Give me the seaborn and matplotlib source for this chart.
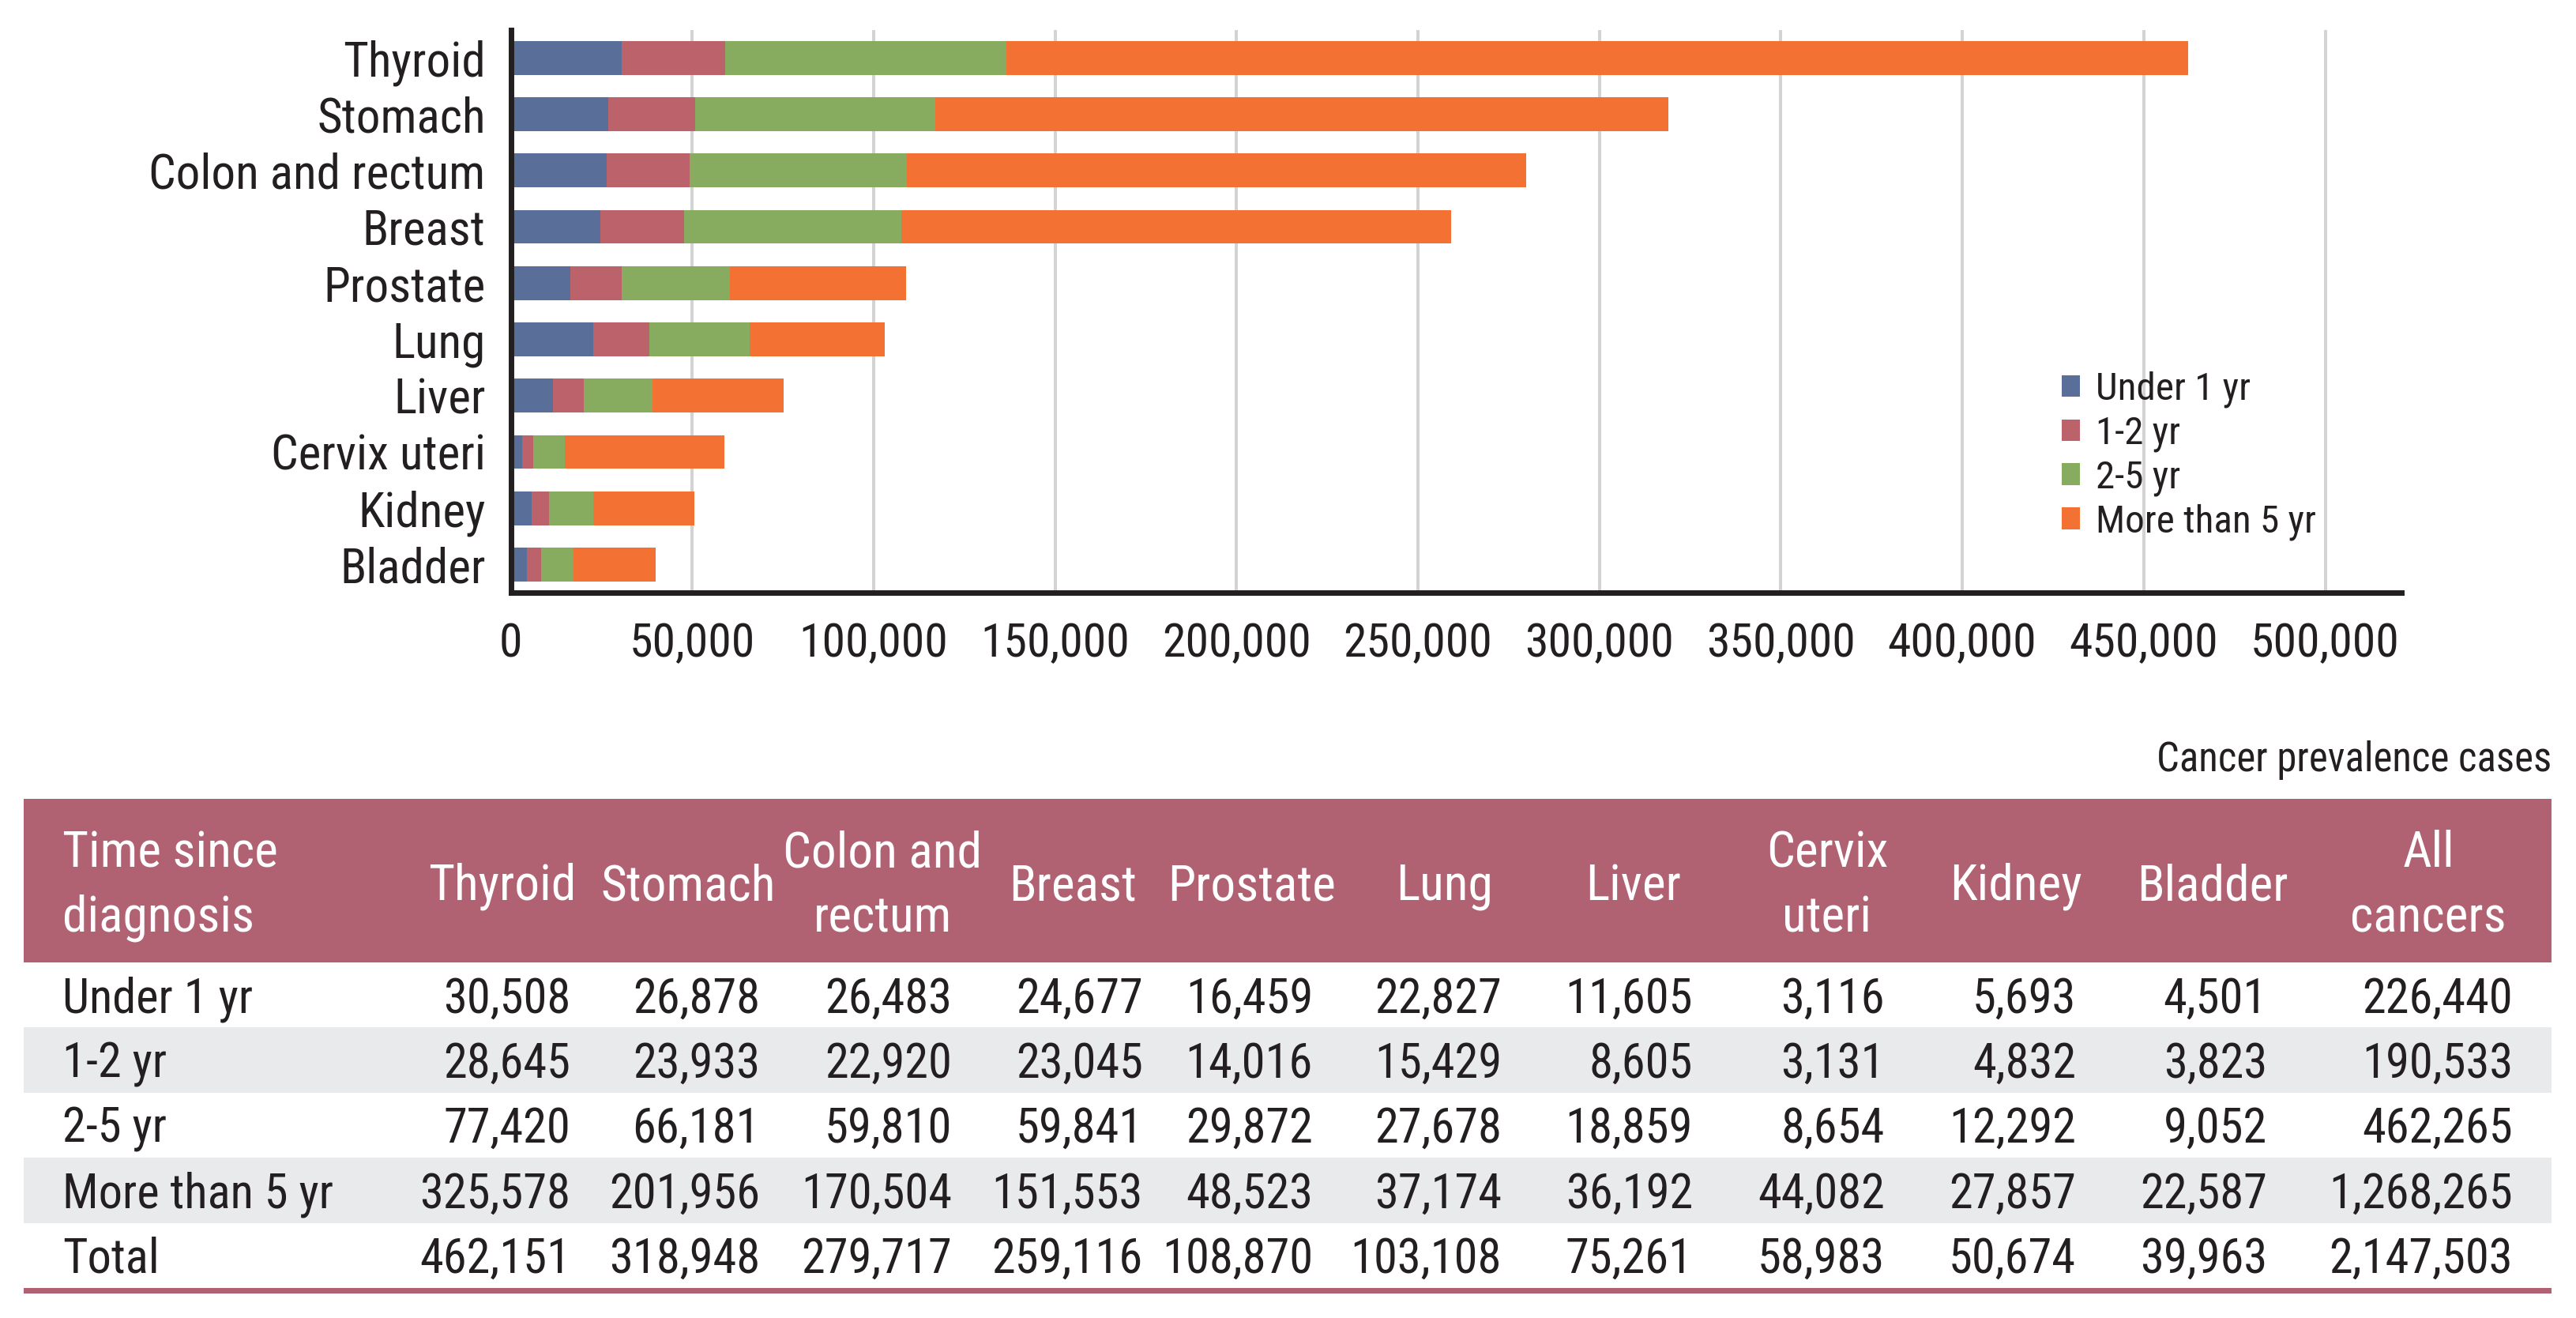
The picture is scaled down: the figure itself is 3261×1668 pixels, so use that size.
import matplotlib
matplotlib.use('Agg')
import matplotlib.pyplot as plt
from matplotlib import font_manager as fm
from matplotlib.patches import Patch, Rectangle
import numpy as np
import pandas as pd
import seaborn as sns

# 数据 (Cancer prevalence cases)
sites = ['Thyroid', 'Stomach', 'Colon and rectum', 'Breast', 'Prostate',
         'Lung', 'Liver', 'Cervix uteri', 'Kidney', 'Bladder']
periods = ['Under 1 yr', '1-2 yr', '2-5 yr', 'More than 5 yr']
under_1yr = [30508, 26878, 26483, 24677, 16459, 22827, 11605, 3116, 5693, 4501]
yr_1_2 = [28645, 23933, 22920, 23045, 14016, 15429, 8605, 3131, 4832, 3823]
yr_2_5 = [77420, 66181, 59810, 59841, 29872, 27678, 18859, 8654, 12292, 9052]
over_5yr = [325578, 201956, 170504, 151553, 48523, 37174, 36192, 44082, 27857, 22587]
totals = [462151, 318948, 279717, 259116, 108870, 103108, 75261, 58983, 50674, 39963]
all_cancers = [226440, 190533, 462265, 1268265, 2147503]

table_cols = ['Thyroid', 'Stomach', 'Colon and\nrectum', 'Breast', 'Prostate', 'Lung',
              'Liver', 'Cervix\nuteri', 'Kidney', 'Bladder', 'All\ncancers']
row_labels = ['Under 1 yr', '1-2 yr', '2-5 yr', 'More than 5 yr', 'Total']

colors = ['#596E99', '#BC626B', '#87AB5F', '#F37133']
rose = '#B06272'
ink = '#231F20'

# 字体: 窄体
sns.set_style('white')
avail = {f.name for f in fm.fontManager.ttflist}
for cand in ['Roboto Condensed', 'Archivo Narrow', 'PT Sans Narrow', 'Liberation Sans Narrow']:
    if cand in avail:
        plt.rcParams['font.family'] = [cand, 'DejaVu Sans']
        break
else:
    plt.rcParams['font.family'] = ['DejaVu Sans']
    plt.rcParams['font.stretch'] = 'condensed'

W, H = 3261, 1668
fig = plt.figure(figsize=(W / 200, H / 200), dpi=200)

# ---- 堆叠条形图 ----
ax = fig.add_axes([646.5 / W, 1 - 750 / H, (3040 - 646.5) / W, (750 - 37.5) / H])
df = pd.DataFrame({'site': sites, periods[0]: under_1yr, periods[1]: yr_1_2,
                   periods[2]: yr_2_5, periods[3]: over_5yr})
cum = df[periods].cumsum(axis=1)
for p, c in reversed(list(zip(periods, colors))):
    sns.barplot(x=cum[p], y=df['site'], orient='h', color=c, saturation=1,
                width=0.6, errorbar=None, linewidth=0, ax=ax)

ax.set_xlim(0, 521000)
ax.set_ylim(len(sites) - 0.5, -0.5)
ax.set_xlabel('')
ax.set_ylabel('')
ax.set_xticks(np.arange(0, 500001, 50000))
ax.set_xticklabels([f'{v:,}' for v in np.arange(0, 500001, 50000)], color=ink)
ax.set_yticks(np.arange(0.5, len(sites) - 1, 1))
ax.set_yticklabels([])
ax.set_yticks(np.arange(len(sites)), labels=sites, minor=True)
ax.tick_params(axis='y', which='major', length=7.5, width=2.5, color=ink, direction='out')
ax.tick_params(axis='y', which='minor', length=0, pad=11.5, labelsize=22, labelcolor=ink)
ax.tick_params(axis='x', which='major', length=7.5, width=2.5, color=ink, direction='out',
               pad=5.5, labelsize=21.5, labelcolor=ink)
for s in ['top', 'right']:
    ax.spines[s].set_visible(False)
for s in ['left', 'bottom']:
    ax.spines[s].set_linewidth(2.5)
    ax.spines[s].set_color(ink)
ax.xaxis.grid(True, color='#D3D3D3', linewidth=1.45)
ax.yaxis.grid(False)
ax.set_axisbelow(True)

handles = [Patch(facecolor=c, edgecolor='none', label=p) for p, c in zip(periods, colors)]
fig.legend(handles=handles, loc='upper left', bbox_to_anchor=(2610 / W, 1 - 470 / H),
           frameon=False, fontsize=17.7, handlelength=0.47, handleheight=0.49,
           handletextpad=0.4, labelspacing=0.19, borderpad=0, borderaxespad=0,
           labelcolor=ink)

# ---- 表格 ----
tx = fig.add_axes([0, 0, 1, 1])
tx.set_xlim(0, W)
tx.set_ylim(H, 0)
tx.axis('off')
tx.patch.set_visible(False)

left, right = 30, 3230
head_top, head_bot = 1011, 1218
row_h = 82.4
label_x = 79
head_cx = [636, 871, 1117, 1358, 1585, 1828, 2068, 2313, 2552, 2801, 3074]
num_rx = [722, 962, 1205, 1447, 1662, 1901, 2143, 2386, 2628, 2870, 3181]

tx.text(right, 976, 'Cancer prevalence cases', ha='right', va='baseline',
        fontsize=18.3, color=ink)
tx.add_patch(Rectangle((left, head_top), right - left, head_bot - head_top,
                       facecolor=rose, edgecolor='none'))
tx.text(label_x, 1097, 'Time since', ha='left', va='baseline', fontsize=22.8, color='white')
tx.text(label_x, 1179, 'diagnosis', ha='left', va='baseline', fontsize=22.8, color='white')
for name, cx in zip(table_cols, head_cx):
    lines = name.split('\n')
    ys = [1139] if len(lines) == 1 else [1097, 1179]
    for ln, yb in zip(lines, ys):
        tx.text(cx, yb, ln, ha='center', va='baseline', fontsize=22.8, color='white')

table_vals = [under_1yr, yr_1_2, yr_2_5, over_5yr, totals]
for i, (lab, vals) in enumerate(zip(row_labels, table_vals)):
    y0 = head_bot + i * row_h
    if i % 2 == 1:
        tx.add_patch(Rectangle((left, y0), right - left, row_h,
                               facecolor='#E9EAEC', edgecolor='none'))
    yb = y0 + row_h / 2 + 22
    tx.text(label_x, yb, lab, ha='left', va='baseline', fontsize=21.8, color=ink)
    for v, rx in zip(list(vals) + [all_cancers[i]], num_rx):
        tx.text(rx, yb, f'{v:,}', ha='right', va='baseline', fontsize=21.8, color=ink)
y_end = head_bot + 5 * row_h
tx.add_patch(Rectangle((left, y_end), right - left, 7, facecolor=rose, edgecolor='none'))

fig.savefig('out.png', dpi=200)
